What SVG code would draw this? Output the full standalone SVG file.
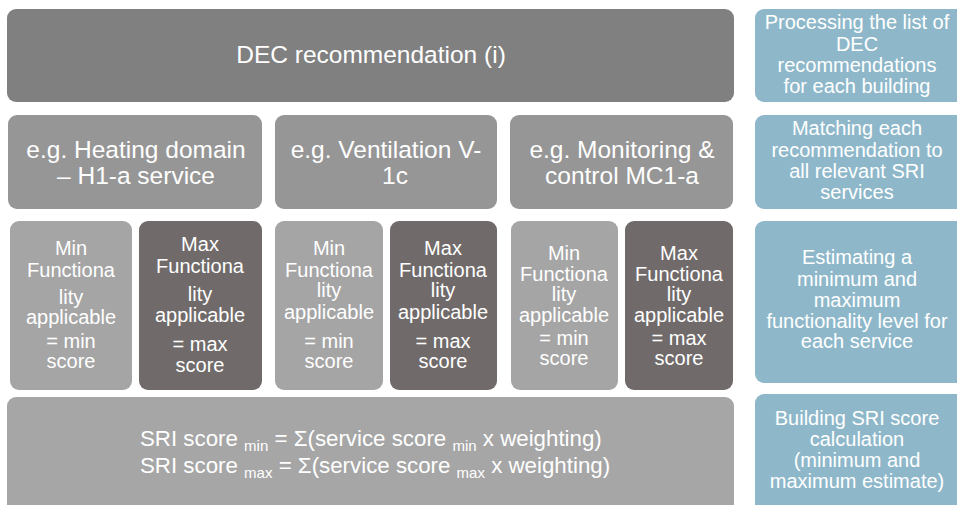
<svg xmlns="http://www.w3.org/2000/svg" width="957" height="505" viewBox="0 0 957 505">
  <style>
    .box { stroke: none; }
    .dec { fill: #808080; }
    .dom { fill: #969696; }
    .min { fill: #a5a5a5; }
    .max { fill: #706b6a; }
    .sum { fill: #a6a6a6; }
    .step { fill: #8eb8ca; }
    text { font-family: "Liberation Sans", Arial, sans-serif; fill: #ffffff; text-anchor: middle; }
    .t24 { font-size: 24.5px; }
    .t20 { font-size: 20px; }
    .f22 { font-size: 22.3px; text-anchor: start; }
    .sub { font-size: 15px; }
  </style>

  <!-- top: recommendation -->
  <g id="dec">
    <rect class="box dec" x="7" y="9" width="727" height="93" rx="9"/>
    <text class="t24" x="371" y="63">DEC recommendation  (i)</text>
  </g>

  <!-- domain / service row -->
  <g id="heating">
    <rect class="box dom" x="8" y="115" width="254" height="94" rx="9"/>
    <text class="t24" x="136" y="158">e.g. Heating domain</text>
    <text class="t24" x="136" y="184">– H1-a service</text>
  </g>
  <g id="ventilation">
    <rect class="box dom" x="275" y="115" width="222" height="94" rx="9"/>
    <text class="t24" x="386" y="158">e.g. Ventilation V-</text>
    <text class="t24" x="395" y="184">1c</text>
  </g>
  <g id="monitoring">
    <rect class="box dom" x="510" y="115" width="223" height="94" rx="9"/>
    <text class="t24" x="622" y="158">e.g. Monitoring &amp;</text>
    <text class="t24" x="622" y="184">control MC1-a</text>
  </g>

  <!-- min / max functionality row -->
  <g id="heating-min">
    <rect class="box min" x="10" y="221" width="122" height="169" rx="9"/>
    <text class="t20" x="71" y="255">Min</text>
    <text class="t20" x="71" y="277">Functiona</text>
    <text class="t20" x="71" y="304">lity</text>
    <text class="t20" x="71" y="324">applicable</text>
    <text class="t20" x="71" y="348">= min</text>
    <text class="t20" x="71" y="368">score</text>
  </g>
  <g id="heating-max">
    <rect class="box max" x="139" y="221" width="123" height="169" rx="9"/>
    <text class="t20" x="200" y="251">Max</text>
    <text class="t20" x="200" y="273">Functiona</text>
    <text class="t20" x="200" y="301">lity</text>
    <text class="t20" x="200" y="322">applicable</text>
    <text class="t20" x="200" y="351">= max</text>
    <text class="t20" x="200" y="372">score</text>
  </g>
  <g id="ventilation-min">
    <rect class="box min" x="275" y="221" width="108" height="169" rx="9"/>
    <text class="t20" x="329" y="255">Min</text>
    <text class="t20" x="329" y="277">Functiona</text>
    <text class="t20" x="329" y="297">lity</text>
    <text class="t20" x="329" y="319">applicable</text>
    <text class="t20" x="329" y="348">= min</text>
    <text class="t20" x="329" y="368">score</text>
  </g>
  <g id="ventilation-max">
    <rect class="box max" x="390" y="221" width="107" height="169" rx="9"/>
    <text class="t20" x="443" y="255">Max</text>
    <text class="t20" x="443" y="277">Functiona</text>
    <text class="t20" x="443" y="297">lity</text>
    <text class="t20" x="443" y="319">applicable</text>
    <text class="t20" x="443" y="348">= max</text>
    <text class="t20" x="443" y="368">score</text>
  </g>
  <g id="monitoring-min">
    <rect class="box min" x="511" y="221" width="107" height="169" rx="9"/>
    <text class="t20" x="564" y="260">Min</text>
    <text class="t20" x="564" y="281">Functiona</text>
    <text class="t20" x="564" y="301">lity</text>
    <text class="t20" x="564" y="322">applicable</text>
    <text class="t20" x="564" y="345">= min</text>
    <text class="t20" x="564" y="365">score</text>
  </g>
  <g id="monitoring-max">
    <rect class="box max" x="625" y="221" width="108" height="169" rx="9"/>
    <text class="t20" x="679" y="260">Max</text>
    <text class="t20" x="679" y="281">Functiona</text>
    <text class="t20" x="679" y="301">lity</text>
    <text class="t20" x="679" y="322">applicable</text>
    <text class="t20" x="679" y="345">= max</text>
    <text class="t20" x="679" y="365">score</text>
  </g>

  <!-- aggregate score -->
  <g id="sri-score">
    <rect class="box sum" x="7" y="397" width="727" height="125" rx="9"/>
    <text class="f22" x="140" y="446">SRI score <tspan class="sub" dy="5">min</tspan><tspan dy="-5"> = Σ(service score </tspan><tspan class="sub" dy="5">min</tspan><tspan dy="-5"> x weighting)</tspan></text>
    <text class="f22" x="140" y="473">SRI score <tspan class="sub" dy="5">max</tspan><tspan dy="-5"> = Σ(service score </tspan><tspan class="sub" dy="5">max</tspan><tspan dy="-5"> x weighting)</tspan></text>
  </g>

  <!-- process steps column -->
  <g id="step-processing">
    <rect class="box step" x="755" y="9" width="215" height="93" rx="9"/>
    <text class="t20" x="857" y="29">Processing the list of</text>
    <text class="t20" x="857" y="51">DEC</text>
    <text class="t20" x="857" y="72">recommendations</text>
    <text class="t20" x="857" y="93">for each building</text>
  </g>
  <g id="step-matching">
    <rect class="box step" x="755" y="115" width="215" height="94" rx="9"/>
    <text class="t20" x="857" y="135">Matching each</text>
    <text class="t20" x="857" y="157">recommendation to</text>
    <text class="t20" x="857" y="178">all relevant SRI</text>
    <text class="t20" x="857" y="199">services</text>
  </g>
  <g id="step-estimating">
    <rect class="box step" x="755" y="221" width="215" height="162" rx="9"/>
    <text class="t20" x="857" y="264">Estimating a</text>
    <text class="t20" x="857" y="286">minimum and</text>
    <text class="t20" x="857" y="307">maximum</text>
    <text class="t20" x="857" y="328">functionality level for</text>
    <text class="t20" x="857" y="348">each service</text>
  </g>
  <g id="step-building">
    <rect class="box step" x="755" y="394" width="215" height="125" rx="9"/>
    <text class="t20" x="857" y="425">Building SRI score</text>
    <text class="t20" x="857" y="446">calculation</text>
    <text class="t20" x="857" y="467">(minimum and</text>
    <text class="t20" x="857" y="488">maximum estimate)</text>
  </g>

  <g id="connectors"/>
</svg>
